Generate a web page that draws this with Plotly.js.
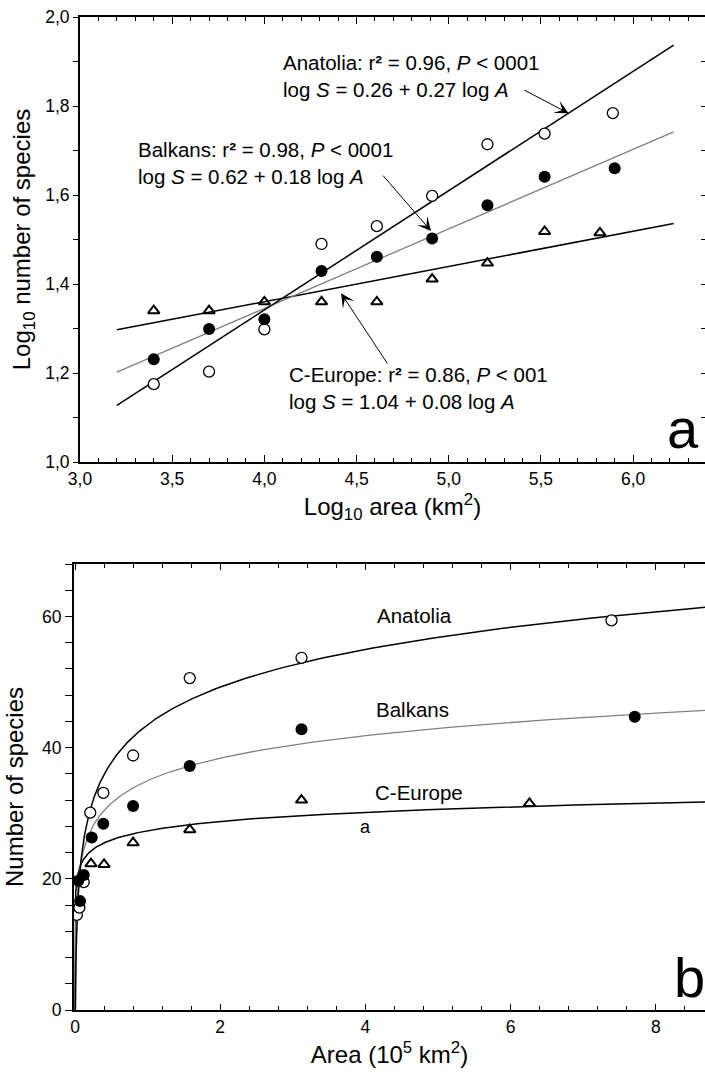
<!DOCTYPE html>
<html>
<head>
<meta charset="utf-8">
<script src="https://cdn.plot.ly/plotly-3.0.1.min.js"></script>
<style>html,body{margin:0;padding:0;background:#fff;}#chart{width:705px;height:1077px;}</style>
</head>
<body>
<div id="chart"></div>
<script>
// ---------- Panel a : log10 area vs log10 number of species ----------
const logAreaAnatolia = [3.40, 3.70, 4.00, 4.31, 4.61, 4.91, 5.21, 5.52, 5.89];
const logSpeciesAnatolia = [1.175, 1.203, 1.298, 1.490, 1.530, 1.598, 1.714, 1.738, 1.784];
const logAreaBalkans = [3.40, 3.70, 4.00, 4.31, 4.61, 4.91, 5.21, 5.52, 5.90];
const logSpeciesBalkans = [1.231, 1.299, 1.321, 1.429, 1.461, 1.502, 1.577, 1.641, 1.660];
const logAreaCEurope = [3.40, 3.70, 4.00, 4.31, 4.61, 4.91, 5.21, 5.52, 5.82];
const logSpeciesCEurope = [1.340, 1.340, 1.360, 1.360, 1.360, 1.411, 1.447, 1.518, 1.515];

// regression lines (end points)
const fitLogArea = [3.20, 6.22];
const fitAnatolia = [1.127, 1.937];
const fitBalkans = [1.202, 1.742];
const fitCEurope = [1.297, 1.536];

// ---------- Panel b : area (10^5 km2) vs number of species ----------
const areaAnatolia = [0.025, 0.06, 0.12, 0.21, 0.39, 0.80, 1.58, 3.12, 7.39];
const speciesAnatolia = [14.5, 15.6, 19.5, 30.1, 33.1, 38.8, 50.6, 53.7, 59.4];
const areaBalkans = [0.07, 0.045, 0.12, 0.23, 0.39, 0.80, 1.58, 3.12, 7.71];
const speciesBalkans = [16.6, 19.7, 20.6, 26.3, 28.4, 31.1, 37.2, 42.8, 44.7];
const areaCEurope = [0.22, 0.40, 0.80, 1.58, 3.12, 6.26];
const speciesCEurope = [22.3, 22.2, 25.5, 27.5, 32.0, 31.5];

// fitted curves S = a + b ln(area), parameters
const curveNames = ['Anatolia', 'Balkans', 'C-Europe'];
const curveA = [43.5, 34.97, 27.33];
const curveB = [8.28, 4.955, 2.03];
const curveColors = ['#000000', '#808080', '#000000'];

const FONT = 'Arial, "Liberation Sans", sans-serif';

function curvePoints(a, b) {
  const x0 = Math.exp(-a / b);
  const xs = [x0], ys = [0];
  const n = 400;
  const lo = Math.log(x0), hi = Math.log(8.7);
  for (let i = 1; i <= n; i++) {
    const x = Math.exp(lo + (hi - lo) * i / n);
    xs.push(x); ys.push(a + b * Math.log(x));
  }
  return {xs, ys};
}

const traces = [];
// panel a lines
traces.push({x: fitLogArea, y: fitCEurope, mode: 'lines', line: {color: '#000', width: 1.5}, xaxis: 'x', yaxis: 'y', name: 'C-Europe fit'});
traces.push({x: fitLogArea, y: fitBalkans, mode: 'lines', line: {color: '#808080', width: 1.3}, xaxis: 'x', yaxis: 'y', name: 'Balkans fit'});
traces.push({x: fitLogArea, y: fitAnatolia, mode: 'lines', line: {color: '#000', width: 1.5}, xaxis: 'x', yaxis: 'y', name: 'Anatolia fit'});
// panel a markers
traces.push({x: logAreaCEurope, y: logSpeciesCEurope, mode: 'markers', marker: {symbol: 'triangle-up-open', size: 10, color: '#000', line: {width: 2, color: '#000'}}, xaxis: 'x', yaxis: 'y', name: 'C-Europe'});
traces.push({x: logAreaAnatolia, y: logSpeciesAnatolia, mode: 'markers', marker: {symbol: 'circle', size: 11, color: '#fff', line: {width: 1.3, color: '#000'}}, xaxis: 'x', yaxis: 'y', name: 'Anatolia'});
traces.push({x: logAreaBalkans, y: logSpeciesBalkans, mode: 'markers', marker: {symbol: 'circle', size: 12, color: '#000', line: {width: 0}}, xaxis: 'x', yaxis: 'y', name: 'Balkans'});
// right-hand tick axis of panel a
traces.push({x: [], y: [], mode: 'markers', xaxis: 'x', yaxis: 'y3', hoverinfo: 'skip', name: ''});

// panel b curves
for (let i = 2; i >= 0; i--) {
  const c = curvePoints(curveA[i], curveB[i]);
  traces.push({x: c.xs, y: c.ys, mode: 'lines', line: {color: curveColors[i], width: i === 1 ? 1.3 : 1.5}, xaxis: 'x2', yaxis: 'y2', name: curveNames[i] + ' fit'});
}
traces.push({x: areaCEurope, y: speciesCEurope, mode: 'markers', marker: {symbol: 'triangle-up-open', size: 10, color: '#000', line: {width: 2, color: '#000'}}, xaxis: 'x2', yaxis: 'y2', name: 'C-Europe'});
traces.push({x: areaAnatolia, y: speciesAnatolia, mode: 'markers', marker: {symbol: 'circle', size: 11, color: '#fff', line: {width: 1.3, color: '#000'}}, xaxis: 'x2', yaxis: 'y2', name: 'Anatolia'});
traces.push({x: areaBalkans, y: speciesBalkans, mode: 'markers', marker: {symbol: 'circle', size: 12, color: '#000', line: {width: 0}}, xaxis: 'x2', yaxis: 'y2', name: 'Balkans'});

const common = {showgrid: false, zeroline: false, showline: true, linecolor: '#000', linewidth: 2, tickcolor: '#000', tickwidth: 1, tickfont: {family: FONT, size: 17.5, color: '#000'}};

const arrowStyle = {text: '', showarrow: true, arrowhead: 3, arrowsize: 2.3, arrowwidth: 1, arrowcolor: '#000'};

const layout = {
  width: 705, height: 1077,
  margin: {l: 0, r: 0, t: 0, b: 0},
  paper_bgcolor: '#fff', plot_bgcolor: '#fff',
  showlegend: false,
  separators: ', ',
  font: {family: FONT, color: '#000', size: 17.5},
  xaxis: Object.assign({}, common, {
    domain: [80 / 705, 1], anchor: 'y', range: [3, 6.39],
    tickmode: 'linear', tick0: 3, dtick: 0.5, tickformat: '.1f',
    ticks: 'inside', ticklen: 7, mirror: 'ticks',
    minor: {dtick: 0.1, tick0: 3, ticks: 'inside', ticklen: 4, tickwidth: 1, tickcolor: '#000'},
    title: {text: 'Log<sub>10</sub> area (km<sup>2</sup>)', font: {family: FONT, size: 24, color: '#000'}, standoff: 10}
  }),
  yaxis: Object.assign({}, common, {
    domain: [1 - 462 / 1077, 1 - 17 / 1077], anchor: 'x', range: [1, 2],
    tickmode: 'linear', tick0: 1, dtick: 0.2, tickformat: '.1f',
    ticks: 'outside', ticklen: 5,
    minor: {dtick: 0.1, tick0: 1, ticks: 'outside', ticklen: 5, tickwidth: 1, tickcolor: '#000'},
    title: {text: 'Log<sub>10</sub> number of species', font: {family: FONT, size: 24, color: '#000'}, standoff: 8}
  }),
  yaxis3: {
    overlaying: 'y', side: 'right', anchor: 'x', range: [1, 2],
    tickmode: 'linear', tick0: 1, dtick: 0.1, ticks: 'inside', ticklen: 4, tickwidth: 1, tickcolor: '#000',
    showticklabels: false, showline: false, showgrid: false, zeroline: false
  },
  xaxis2: Object.assign({}, common, {
    domain: [74 / 705, 1], anchor: 'y2', range: [-0.014, 8.678],
    tickmode: 'linear', tick0: 0, dtick: 2,
    ticks: 'inside', ticklen: 6, mirror: 'ticks',
    minor: {dtick: 0.4, tick0: 0, ticks: 'inside', ticklen: 4, tickwidth: 1, tickcolor: '#000'},
    title: {text: 'Area (10<sup>5</sup> km<sup>2</sup>)', font: {family: FONT, size: 24, color: '#000'}, standoff: 10}
  }),
  yaxis2: Object.assign({}, common, {
    domain: [1 - 1010 / 1077, 1 - 564 / 1077], anchor: 'x2', range: [0, 68],
    tickmode: 'linear', tick0: 0, dtick: 20,
    ticks: 'outside', ticklen: 7,
    minor: {dtick: 4, tick0: 0, ticks: 'outside', ticklen: 7, tickwidth: 1, tickcolor: '#000'},
    title: {text: 'Number of species', font: {family: FONT, size: 24, color: '#000'}, standoff: 12}
  }),
  annotations: [
    {xref: 'x', yref: 'y', x: 4.096, y: 1.8685, xanchor: 'left', yanchor: 'middle', align: 'left', showarrow: false, borderpad: 0,
     text: 'Anatolia: r<b>²</b> = 0.96, <i>P</i> &lt; 0001<br>log <i>S</i> = 0.26 + 0.27 log <i>A</i>', font: {family: FONT, size: 20.5, color: '#000'}},
    {xref: 'x', yref: 'y', x: 3.3075, y: 1.6712, xanchor: 'left', yanchor: 'middle', align: 'left', showarrow: false, borderpad: 0,
     text: 'Balkans: r<b>²</b> = 0.98, <i>P</i> &lt; 0001<br>log <i>S</i> = 0.62 + 0.18 log <i>A</i>', font: {family: FONT, size: 20.5, color: '#000'}},
    {xref: 'x', yref: 'y', x: 4.1286, y: 1.1674, xanchor: 'left', yanchor: 'middle', align: 'left', showarrow: false, borderpad: 0,
     text: 'C-Europe: r<b>²</b> = 0.86, <i>P</i> &lt; 001<br>log <i>S</i> = 1.04 + 0.08 log <i>A</i>', font: {family: FONT, size: 20.5, color: '#000'}},
    Object.assign({xref: 'x', yref: 'y', axref: 'x', ayref: 'y', x: 5.650, y: 1.7836, ax: 5.402, ay: 1.8375}, arrowStyle),
    Object.assign({xref: 'x', yref: 'y', axref: 'x', ayref: 'y', x: 4.904, y: 1.519, ax: 4.637, ay: 1.647}, arrowStyle),
    Object.assign({xref: 'x', yref: 'y', axref: 'x', ayref: 'y', x: 4.416, y: 1.379, ax: 4.673, ay: 1.218}, arrowStyle),
    {xref: 'paper', yref: 'paper', x: 683 / 705, y: 1 - 428.5 / 1077, xanchor: 'center', yanchor: 'middle', showarrow: false, text: 'a', font: {family: FONT, size: 56, color: '#000'}},
    {xref: 'x2', yref: 'y2', x: 4.146, y: 60.15, xanchor: 'left', yanchor: 'middle', showarrow: false, borderpad: 0, text: 'Anatolia', font: {family: FONT, size: 20.5, color: '#000'}},
    {xref: 'x2', yref: 'y2', x: 4.132, y: 45.84, xanchor: 'left', yanchor: 'middle', showarrow: false, borderpad: 0, text: 'Balkans', font: {family: FONT, size: 20.5, color: '#000'}},
    {xref: 'x2', yref: 'y2', x: 4.118, y: 33.2, xanchor: 'left', yanchor: 'middle', showarrow: false, borderpad: 0, text: 'C-Europe', font: {family: FONT, size: 20.5, color: '#000'}},
    {xref: 'x2', yref: 'y2', x: 4.008, y: 27.87, xanchor: 'center', yanchor: 'middle', showarrow: false, borderpad: 0, text: 'a', font: {family: FONT, size: 18, color: '#000'}},
    {xref: 'paper', yref: 'paper', x: 689 / 705, y: 1 - 977.5 / 1077, xanchor: 'center', yanchor: 'middle', showarrow: false, text: 'b', font: {family: FONT, size: 56, color: '#000'}}
  ]
};

Plotly.newPlot('chart', traces, layout, {staticPlot: true, displayModeBar: false});
</script>
</body>
</html>
